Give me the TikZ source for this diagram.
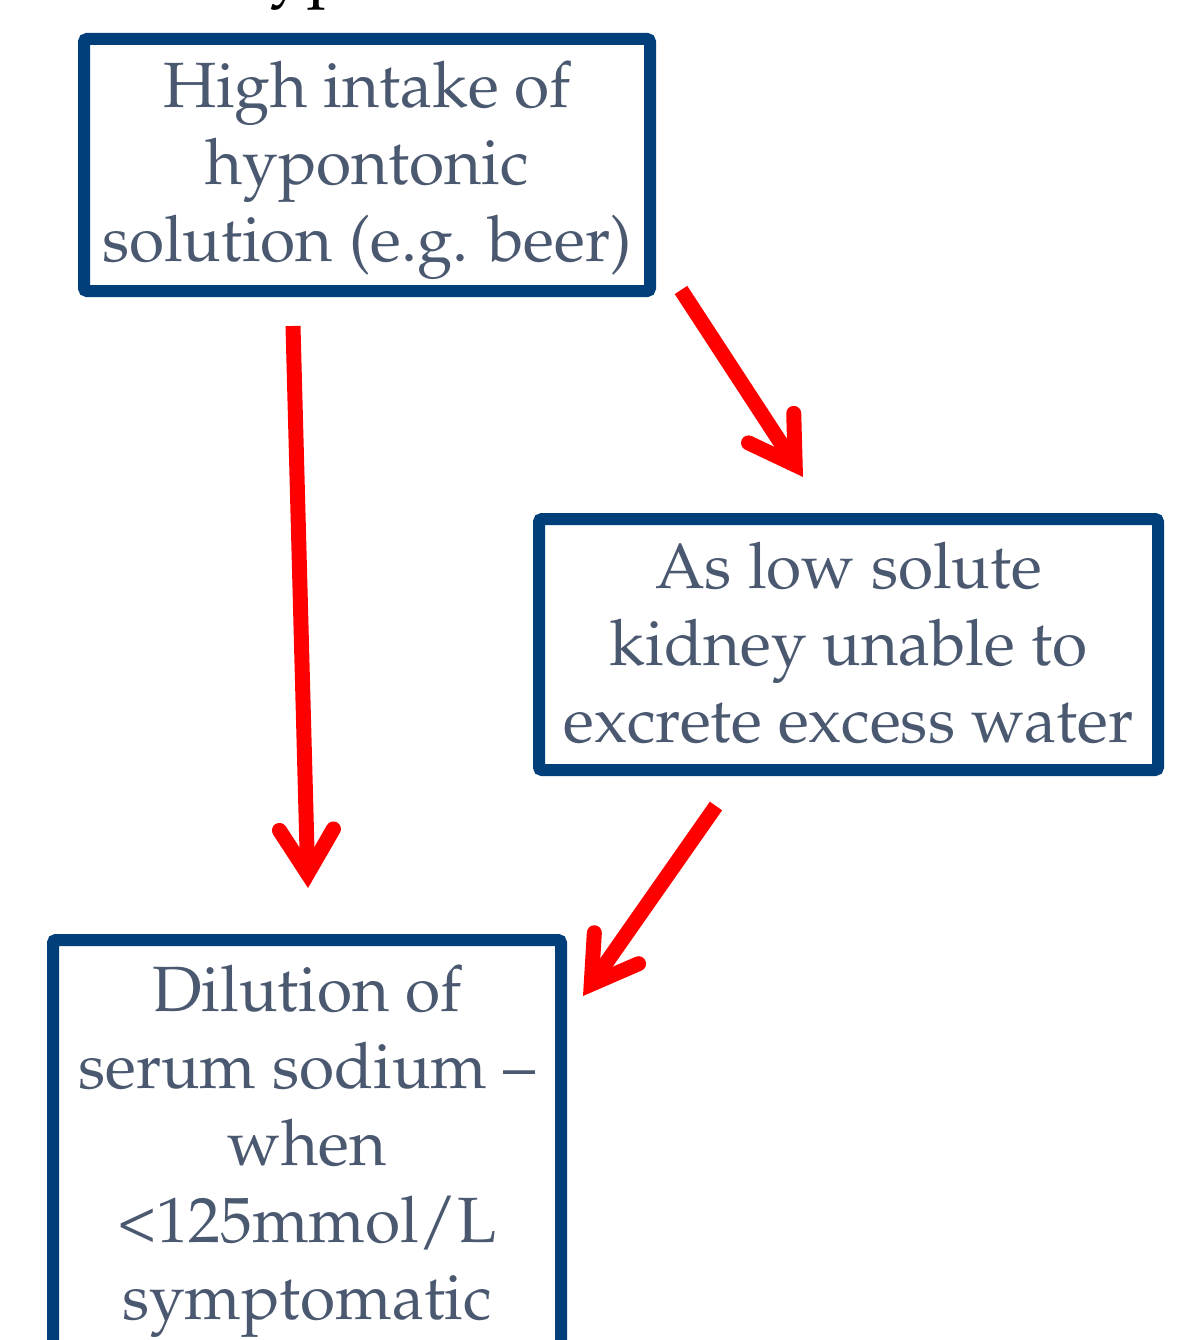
\documentclass[tikz,border=0pt]{standalone}
\usepackage[T1]{fontenc}
\usepackage{mathpazo}
\usetikzlibrary{arrows.meta,calc}
\definecolor{boxblue}{RGB}{0,63,122}
\definecolor{txtgrey}{RGB}{74,88,112}
\definecolor{arrred}{RGB}{255,0,0}
\begin{document}
\begin{tikzpicture}[x=1pt,y=-1pt,
 box/.style={draw=boxblue,line width=12pt,rounded corners=3pt,inner sep=0pt,outer sep=0pt},
 txt/.style={text=txtgrey,font=\fontsize{64}{77}\selectfont,align=center,inner sep=0pt},
 arr/.style={draw=arrred,line width=15pt,-{Straight Barb[length=44pt,width=54pt,line cap=round,line join=miter]}}]
\clip (0,0) rectangle (1191,1340);
\node[anchor=base west,inner sep=0pt,font=\fontsize{67}{77}\selectfont] (title) at (214,-8) {Hyponatraemia};
\node[box,minimum width=566pt,minimum height=252pt] (b1) at (367,165) {};
\node[box,minimum width=619pt,minimum height=251pt] (b2) at (848.5,644.5) {};
\node[box,minimum width=508pt,minimum height=480pt] (b3) at (307,1180) {};
\node[txt] (t1) at (367,170) {High intake of\\hypontonic\\solution (e.g. beer)};
\node[txt] (t2) at (848.5,643) {As low solute\\kidney unable to\\excrete excess water};
\node[txt] (t3) at (307,1151) {Dilution of\\serum sodium --\\when\\<125mmol/L\\symptomatic};
\coordinate (a1s) at ($(b1.south west)+(209,35)$);
\coordinate (a1e) at ($(b3.north west)+(255,-52)$);
\coordinate (a2s) at ($(b1.south east)+(31,-1)$);
\coordinate (a2e) at ($(b2.north west)+(264,-42)$);
\coordinate (a3s) at ($(b2.south west)+(177,36)$);
\coordinate (a3e) at ($(b3.north east)+(22,56)$);
\draw[arr] (a1s) -- (a1e);
\draw[arr] (a2s) -- (a2e);
\draw[arr] (a3s) -- (a3e);
\end{tikzpicture}
\end{document}
